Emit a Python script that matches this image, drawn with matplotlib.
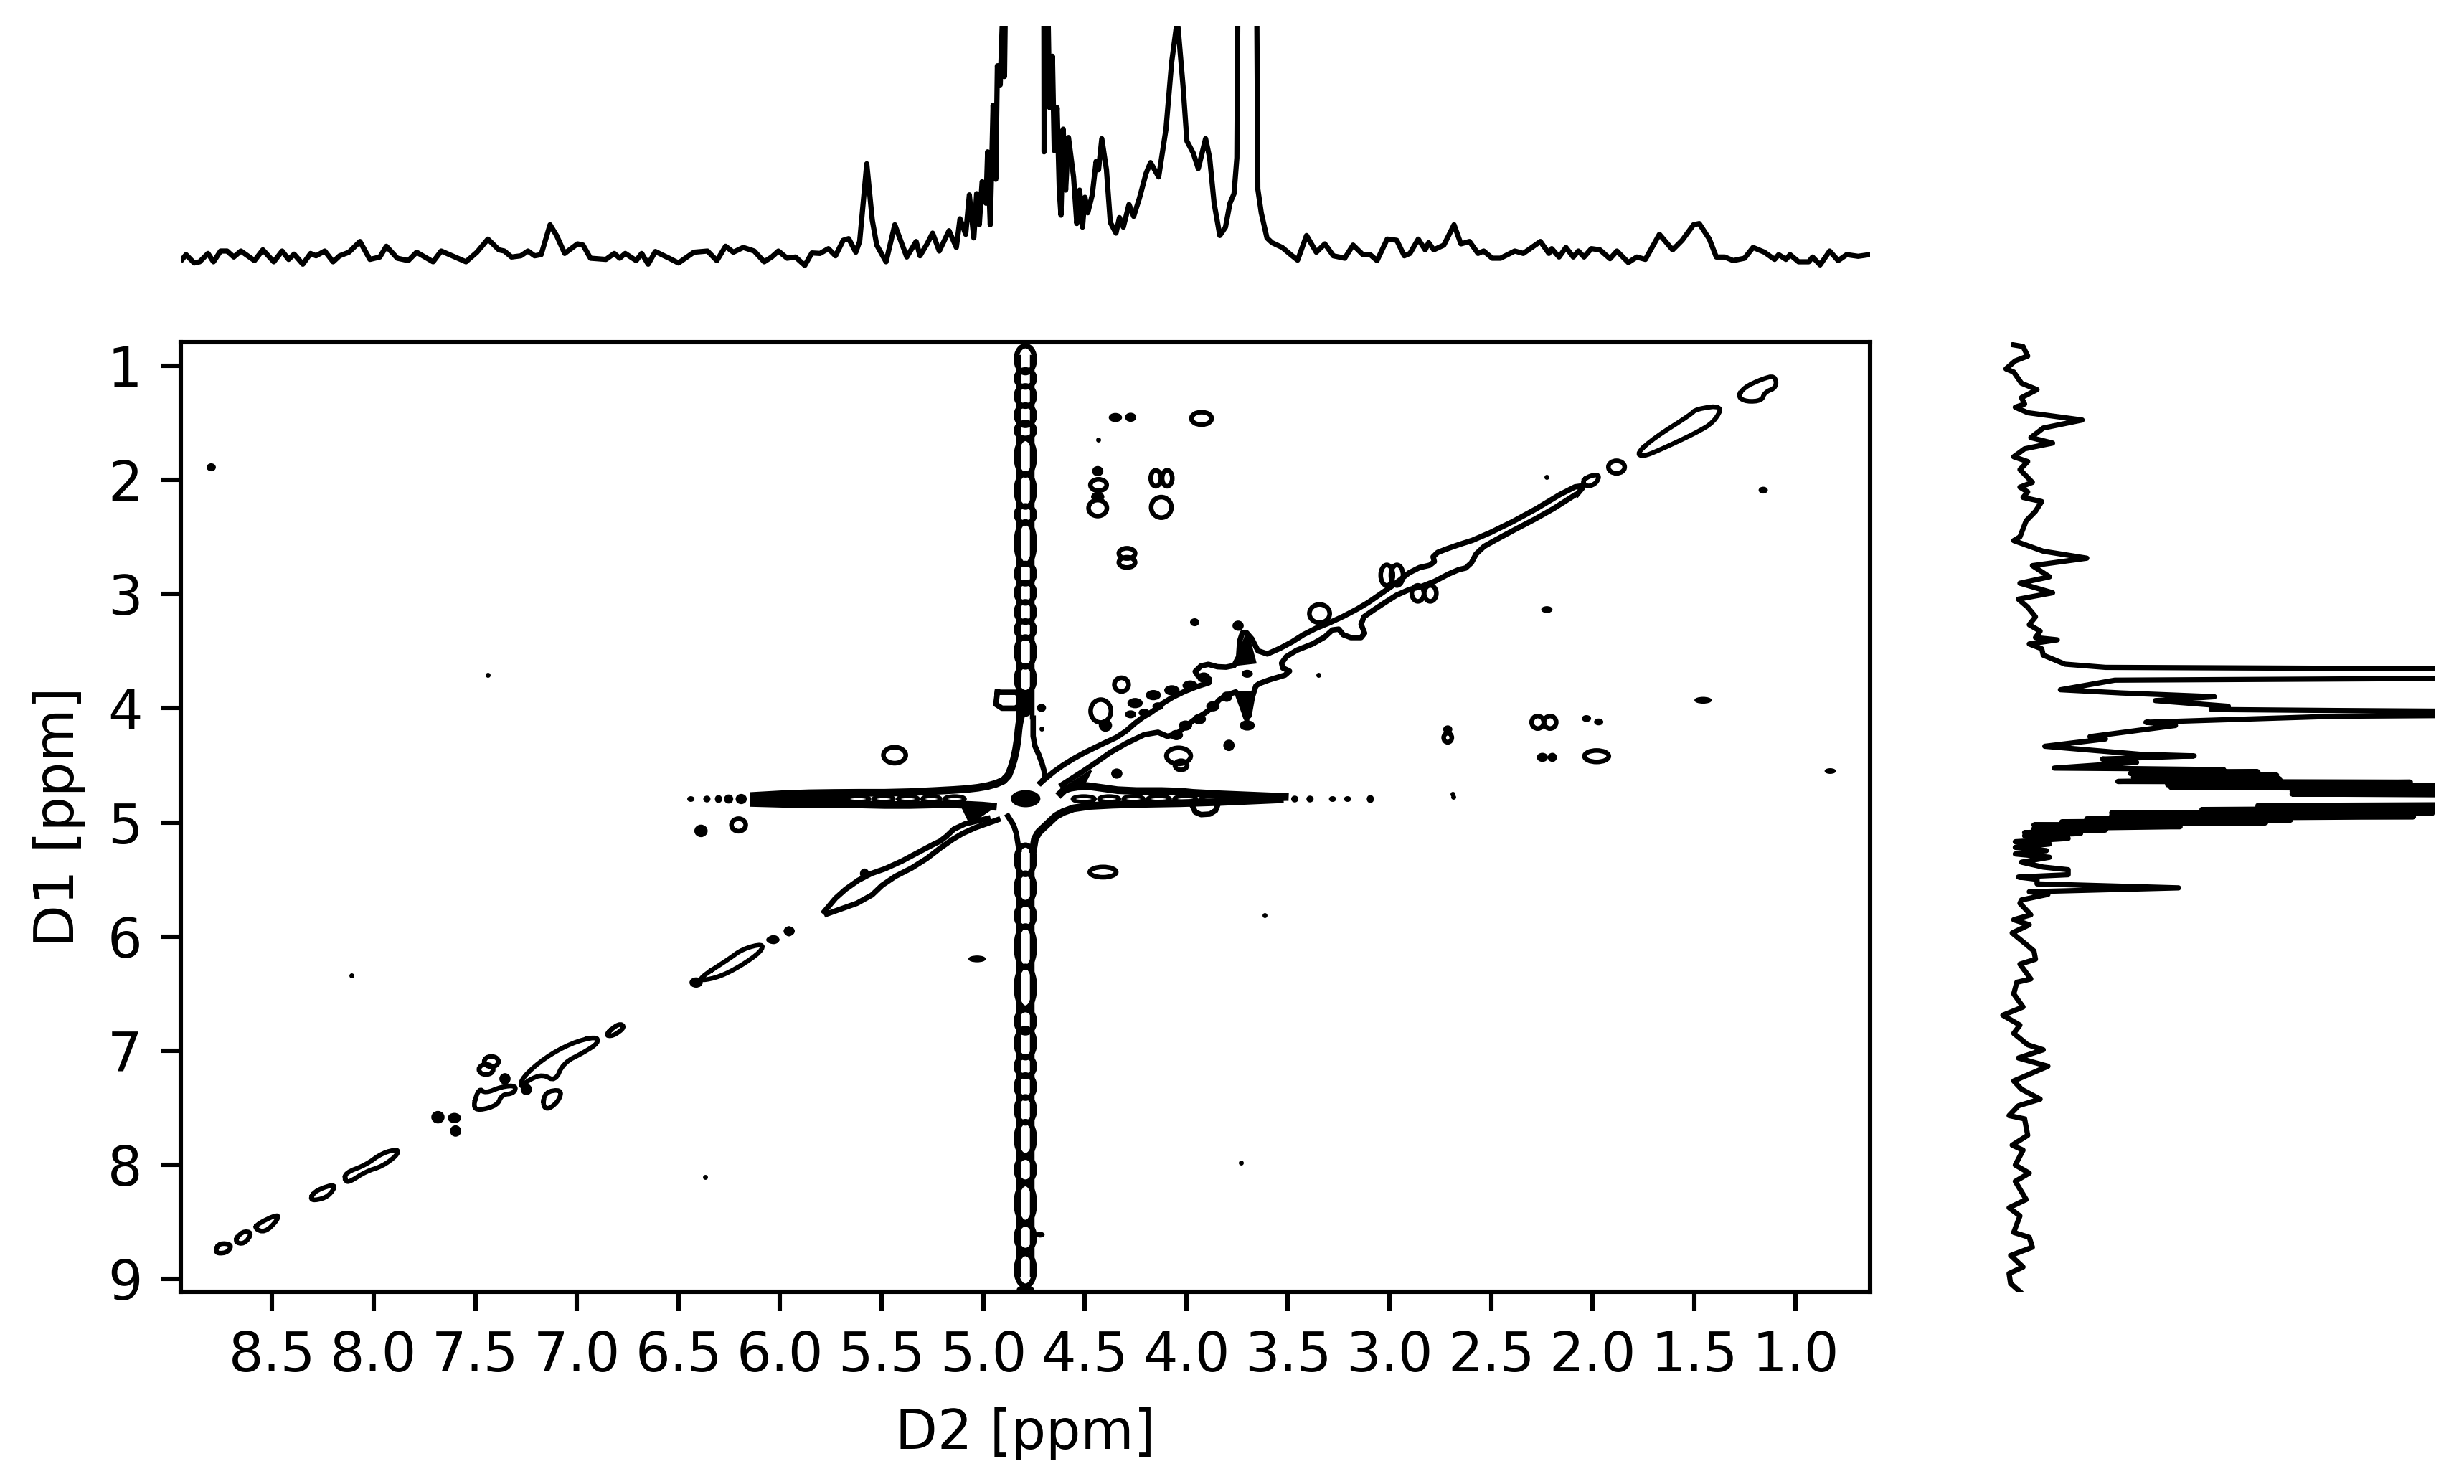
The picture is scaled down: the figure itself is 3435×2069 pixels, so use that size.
import numpy as np
import matplotlib
matplotlib.use('Agg')
import matplotlib.pyplot as plt
from matplotlib.patches import Ellipse

# ---------- 1D projection over D2 ----------
top_ppm_a = [8.943, 8.924, 8.884, 8.857, 8.816, 8.789, 8.754, 8.722, 8.689, 8.654,
             8.587, 8.546, 8.492, 8.451, 8.419, 8.392, 8.349, 8.311, 8.284, 8.241,
             8.200, 8.168, 8.122, 8.068, 8.019, 7.970, 7.938, 7.884, 7.830, 7.789,
             7.708, 7.668, 7.600, 7.546, 7.492, 7.438, 7.384, 7.357, 7.322, 7.276,
             7.241, 7.208, 7.176, 7.132, 7.100, 7.060, 6.997, 6.970, 6.933, 6.857,
             6.816, 6.789, 6.762, 6.708, 6.681, 6.649, 6.614, 6.546, 6.500, 6.424,
             6.357, 6.311, 6.268, 6.230, 6.181, 6.127, 6.078, 6.041, 6.008, 5.965,
             5.924, 5.878, 5.843, 5.803, 5.762, 5.727, 5.689, 5.662, 5.627, 5.608,
             5.573, 5.546, 5.524, 5.478, 5.435, 5.376, 5.330, 5.311, 5.276, 5.249,
             5.216, 5.168, 5.132, 5.114, 5.086, 5.068, 5.046, 5.032, 5.019, 5.005,
             4.986, 4.978, 4.965, 4.951, 4.938, 4.930, 4.916, 4.905, 4.895, 4.884]
top_int_a = [-14, 6, -29, -24, 11, -24, 21, 21, -4, 21,
             -19, 26, -24, 21, -14, 8, -34, 11, 1, 21,
             -24, 1, 16, 61, -14, -4, 41, -9, -19, 16,
             -24, 21, -4, -24, 16, 71, 26, 21, -4, 1,
             21, 1, 6, 131, 86, 11, 51, 46, -9, -14,
             11, -9, 11, -19, 11, -34, 19, -9, -29, 16,
             21, -19, 41, 16, 36, 21, -24, -4, 21, -9,
             -4, -39, 13, 11, 31, 1, 66, 73, 16, 61,
             386, 151, 46, -24, 131, -4, 61, 1, 51, 96,
             21, 106, 36, 156, 91, 256, 76, 261, 131, 311,
             221, 436, 131, 631, 321, 796, 716, 1000, 751, 1500]
top_ppm_b = [4.702, 4.700, 4.695, 4.684, 4.673, 4.659, 4.650, 4.636, 4.625, 4.617,
             4.606, 4.594, 4.580, 4.555, 4.539, 4.525, 4.511, 4.499, 4.485, 4.463,
             4.444, 4.432, 4.416, 4.393, 4.374, 4.346, 4.329, 4.310, 4.282, 4.259,
             4.231, 4.198, 4.176, 4.136, 4.100, 4.072, 4.044, 4.016, 3.997, 3.966,
             3.941, 3.905, 3.885, 3.863, 3.835, 3.807, 3.785, 3.765, 3.751, 3.743,
             3.656, 3.648, 3.631, 3.603, 3.578, 3.528, 3.486, 3.452, 3.408, 3.360,
             3.318, 3.276, 3.220, 3.179, 3.131, 3.095, 3.061, 3.011, 2.964, 2.927,
             2.899, 2.858, 2.824, 2.807, 2.782, 2.732, 2.682, 2.648, 2.606, 2.564,
             2.536, 2.494, 2.453, 2.383, 2.341, 2.257, 2.215, 2.201, 2.165, 2.131,
             2.095, 2.070, 2.042, 2.006, 1.964, 1.914, 1.880, 1.824, 1.782, 1.740,
             1.671, 1.606, 1.559, 1.503, 1.475, 1.425, 1.391, 1.349, 1.308, 1.252,
             1.210, 1.154, 1.104, 1.084, 1.048, 1.028, 0.986, 0.936, 0.917, 0.880,
             0.833, 0.791, 0.749, 0.693, 0.637]
top_int_b = [1500, 436, 1500, 1200, 621, 836, 441, 621, 271, 171,
             531, 276, 496, 331, 136, 276, 121, 246, 181, 256,
             396, 361, 491, 361, 141, 96, 161, 121, 216, 166,
             241, 346, 391, 331, 531, 811, 990, 711, 481, 431,
             366, 491, 411, 221, 86, 121, 221, 261, 411, 1500,
             1500, 281, 181, 76, 56, 36, 6, -17, 86, 16,
             51, 1, -9, 46, 6, 6, -19, 71, 66, 1,
             11, 71, 26, 56, 26, 46, 131, 51, 61, 11,
             21, -9, -9, 21, 11, 61, 11, 31, -4, 36,
             -4, 21, -4, 31, 26, -11, 21, -27, -4, -14,
             91, 26, 66, 131, 136, 71, -4, -4, -19, -9,
             36, 16, -14, 6, -14, 6, -24, -24, -4, -37,
             21, -19, 6, -1, 6]

# ---------- 1D projection along D1 ----------
side_ppm_a = [0.818, 0.832, 0.916, 0.958, 1.028, 1.056, 1.154, 1.210, 1.280, 1.336,
              1.364, 1.412, 1.476, 1.546, 1.630, 1.678, 1.728, 1.798, 1.840, 1.910,
              2.022, 2.064, 2.106, 2.154, 2.190, 2.275, 2.359, 2.499, 2.532, 2.625,
              2.686, 2.751, 2.849, 2.905, 2.989, 3.045, 3.115, 3.199, 3.269, 3.325,
              3.381, 3.401, 3.437, 3.479, 3.535, 3.614, 3.642, 3.656, 3.696, 3.737,
              3.754, 3.838, 3.866, 3.899, 3.933, 3.983, 4.011, 4.020, 4.045, 4.070,
              4.123, 4.151, 4.249, 4.269, 4.333, 4.403, 4.417, 4.445, 4.474, 4.524]
side_int_a = [-35, -5, 10, -30, -60, -35, -10, 40, -10, 0,
              -30, 10, 185, 60, 20, 90, 0, -35, 10, -15,
              25, -15, 10, -5, 55, 35, 5, -15, -35, 60,
              200, 25, 80, -15, 90, -20, 10, 35, 15, 50,
              35, 105, 15, 55, 60, 130, 260, 1500, 4000, 1500,
              290, 115, 310, 610, 420, 655, 600, 1000, 2500, 1000,
              390, 485, 210, 260, 65, 370, 545, 250, 360, 95]
side_ppm_b = [4.529, 4.538, 4.549, 4.557, 4.571, 4.586, 4.605, 4.619, 4.641, 4.647,
              4.670, 4.675, 4.692, 4.706, 4.726, 4.740, 4.751, 4.760, 4.800, 4.844,
              4.852, 4.873, 4.887, 4.901, 4.916, 4.921, 4.939, 4.950, 4.968, 4.979,
              4.994, 5.002, 5.022, 5.037, 5.054, 5.066, 5.089, 5.097, 5.117, 5.140,
              5.169, 5.189, 5.218, 5.247, 5.276, 5.305, 5.348, 5.391, 5.414, 5.458,
              5.478, 5.498, 5.538, 5.573, 5.607, 5.630, 5.679, 5.708, 5.809, 5.852,
              5.896, 5.968, 6.068, 6.126, 6.198, 6.241, 6.371, 6.400, 6.501, 6.616,
              6.688, 6.775, 6.847, 6.947, 6.991, 7.063, 7.135, 7.264, 7.336, 7.423,
              7.481, 7.567, 7.596, 7.740, 7.826, 7.870, 8.000, 8.071, 8.143, 8.302,
              8.374, 8.446, 8.590, 8.633, 8.720, 8.792, 8.893, 8.950, 9.037, 9.109]
side_int_b = [350, 640, 370, 750, 340, 810, 350, 820, 300, 1240,
              460, 1500, 470, 1500, 860, 1500, 860, 1500, 4000, 1500,
              750, 1500, 570, 1500, 280, 1310, 280, 1250, 200, 855,
              120, 775, 30, 500, 30, 260, 0, 180, 0, 140,
              -30, 80, -30, 70, -30, 80, -10, 60, 140, 140,
              -20, 40, 40, 495, 15, 75, -10, -15, 20, -35,
              15, -40, 5, 30, 35, -15, 20, -25, -35, -5,
              -70, -15, -35, 10, 60, -20, 75, -35, -10, 50,
              -20, -50, 0, 10, -40, -5, -30, 15, -30, 5,
              -50, -15, -35, 15, 25, -45, -5, -50, -45, -15]

# ---------- contour outlines, (D2, D1) in ppm ----------
diag_upper = [(4.717, 4.652), (4.635, 4.530), (4.533, 4.417), (4.421, 4.319), (4.319, 4.235),
              (4.229, 4.095), (4.162, 4.025), (4.094, 3.927), (3.981, 3.829), (3.858, 3.759),
              (3.970, 3.703), (3.914, 3.605), (3.824, 3.647), (3.745, 3.619), (3.734, 3.339),
              (3.693, 3.339), (3.632, 3.549), (3.508, 3.451), (3.396, 3.325), (3.261, 3.227),
              (3.126, 3.101), (3.035, 2.989), (2.979, 2.919), (2.878, 2.779), (2.776, 2.737),
              (2.788, 2.653), (2.686, 2.583), (2.562, 2.513), (2.337, 2.317), (2.101, 2.065),
              (2.040, 2.050), (2.075, 2.125)]
diag_lower = [(4.612, 4.670), (4.477, 4.516), (4.342, 4.347), (4.162, 4.193), (4.071, 4.263),
              (3.981, 4.123), (3.880, 4.011), (3.824, 3.899), (3.734, 3.843), (3.700, 4.151),
              (3.666, 3.815), (3.632, 3.773), (3.475, 3.689), (3.542, 3.633), (3.497, 3.521),
              (3.339, 3.409), (3.261, 3.283), (3.216, 3.381), (3.114, 3.381), (3.148, 3.227),
              (3.058, 3.115), (2.934, 2.975), (2.810, 2.919), (2.675, 2.793), (2.608, 2.765),
              (2.562, 2.611), (2.450, 2.499), (2.225, 2.289), (2.089, 2.135)]
arm_up_left = [(6.129, 4.767), (5.919, 4.746), (5.671, 4.740), (5.423, 4.740), (5.175, 4.719),
               (5.051, 4.704), (4.952, 4.673), (4.883, 4.620), (4.853, 4.484), (4.833, 4.317),
               (4.824, 4.150), (4.816, 4.087)]
arm_up_right = [(4.754, 4.087), (4.754, 4.296), (4.717, 4.442), (4.692, 4.599), (4.717, 4.652)]
arm_low_left = [(6.129, 4.830), (5.919, 4.840), (5.671, 4.840), (5.423, 4.850), (5.175, 4.840),
                (5.020, 4.850), (4.952, 4.861)]
arm_right_up = [(3.515, 4.777), (3.937, 4.746), (4.060, 4.725), (4.308, 4.725), (4.432, 4.694),
                (4.506, 4.677), (4.593, 4.704), (4.618, 4.746)]
arm_right_low = [(3.540, 4.798), (3.937, 4.829), (4.308, 4.840), (4.531, 4.861), (4.630, 4.924),
                 (4.680, 5.007), (4.742, 5.112), (4.754, 5.237)]
arm_down_left = [(4.878, 4.945), (4.841, 5.049), (4.824, 5.237)]
diag_left_a = [(4.977, 4.965), (5.126, 5.028), (5.200, 5.154), (5.250, 5.196), (5.448, 5.384),
               (5.584, 5.468), (5.708, 5.624), (5.782, 5.781)]
diag_left_b = [(4.928, 4.976), (5.076, 5.070), (5.175, 5.175), (5.312, 5.363), (5.473, 5.509),
               (5.572, 5.677), (5.770, 5.802)]
arm_bump = [(3.974, 4.840), (3.949, 4.934), (3.862, 4.924), (3.837, 4.809)]
block_near_ridge = [(4.930, 3.860), (4.810, 3.860), (4.810, 4.000), (4.940, 4.000), (4.930, 3.860)]

closed_shapes = [
    [(2.053, 2.017), (2.017, 1.965), (1.965, 1.954), (1.980, 2.028), (2.024, 2.063)],
    [(1.782, 1.766), (1.695, 1.630), (1.519, 1.431), (1.490, 1.379), (1.358, 1.348),
     (1.402, 1.494), (1.490, 1.588), (1.665, 1.735), (1.753, 1.798)],
    [(1.285, 1.275), (1.255, 1.191), (1.167, 1.118), (1.102, 1.086), (1.094, 1.191),
     (1.153, 1.233), (1.167, 1.306), (1.241, 1.316)],
    [(6.387, 6.351), (6.255, 6.200), (6.184, 6.108), (6.083, 6.061), (6.093, 6.131),
     (6.194, 6.258), (6.296, 6.351), (6.387, 6.386)],
    [(6.863, 6.862), (6.793, 6.757), (6.762, 6.792), (6.823, 6.873)],
    [(6.904, 6.873), (7.026, 6.931), (7.157, 7.059), (7.269, 7.233), (7.279, 7.326),
     (7.239, 7.256), (7.168, 7.205), (7.107, 7.268), (7.066, 7.105), (6.965, 7.013),
     (6.894, 6.931)],
    [(7.168, 7.488), (7.157, 7.361), (7.076, 7.338), (7.086, 7.430), (7.137, 7.512)],
    [(7.512, 7.488), (7.482, 7.326), (7.451, 7.372), (7.370, 7.314), (7.299, 7.303),
     (7.309, 7.372), (7.370, 7.384), (7.391, 7.477), (7.482, 7.523)],
    [(8.141, 8.138), (8.141, 8.069), (8.039, 7.999), (7.958, 7.894), (7.877, 7.860),
     (7.887, 7.918), (7.958, 8.011), (8.039, 8.057), (8.120, 8.150)],
    [(8.313, 8.289), (8.282, 8.219), (8.181, 8.161), (8.222, 8.277), (8.293, 8.312)],
    [(8.587, 8.556), (8.566, 8.509), (8.469, 8.428), (8.475, 8.486), (8.536, 8.591)],
    [(8.688, 8.672), (8.647, 8.579), (8.597, 8.591), (8.637, 8.695)],
    [(8.779, 8.742), (8.759, 8.684), (8.698, 8.695), (8.718, 8.765), (8.769, 8.776)],
]

filled_shapes = [
    [(5.101, 4.871), (4.952, 4.871), (5.064, 5.007)],
    [(4.618, 4.714), (4.469, 4.547), (4.506, 4.673), (4.358, 4.704)],
    [(3.760, 3.620), (3.700, 3.330), (3.660, 3.600)],
    [(3.760, 3.860), (3.700, 4.150), (3.670, 3.860)],
    # dark ends of the water line, left and right of the centre
    [(6.129, 4.750), (5.671, 4.745), (5.671, 4.840), (6.129, 4.835)],
    [(3.788, 4.750), (3.515, 4.775), (3.515, 4.800), (3.788, 4.835)],
]

# open ring peaks: centre and full widths in ppm
ring_d2 = [3.925, 4.432, 4.436, 4.150, 4.094, 4.123, 4.292, 4.292, 3.344, 4.319,
           4.421, 4.038, 5.436, 3.013, 2.963, 2.860, 2.799, 2.270, 2.209, 1.980,
           4.410, 6.204, 1.882, 7.447, 7.421, 2.713, 4.026]
ring_d1 = [1.462, 2.045, 2.247, 1.986, 1.986, 2.241, 2.644, 2.723, 3.171, 3.793,
           4.025, 4.417, 4.411, 2.835, 2.835, 2.994, 2.994, 4.123, 4.123, 4.420,
           5.435, 5.022, 1.888, 7.163, 7.094, 4.258, 4.500]
ring_w = [0.10, 0.08, 0.09, 0.05, 0.05, 0.10, 0.08, 0.08, 0.10, 0.07,
          0.10, 0.12, 0.11, 0.06, 0.06, 0.06, 0.06, 0.06, 0.06, 0.12,
          0.13, 0.07, 0.08, 0.07, 0.07, 0.04, 0.06]
ring_h = [0.11, 0.10, 0.14, 0.14, 0.14, 0.18, 0.09, 0.09, 0.16, 0.12,
          0.20, 0.14, 0.14, 0.18, 0.18, 0.14, 0.14, 0.11, 0.11, 0.10,
          0.09, 0.11, 0.11, 0.09, 0.09, 0.08, 0.08]

# closed-up peaks that print as solid dots
dot_d2 = [4.349, 4.274, 4.436, 4.436, 3.959, 3.745, 4.398, 4.713, 3.790, 4.342,
          2.713, 2.247, 2.198, 1.456, 0.830, 8.800, 5.030, 4.720, 6.389, 5.956,
          6.035, 4.791, 6.413, 6.032, 5.955, 7.249, 7.354, 7.684, 7.603, 7.597,
          3.700, 1.160, 2.225, 2.030, 1.970,
          6.439, 6.360, 6.303, 6.253, 6.191, 3.466, 3.391, 3.280, 3.206, 3.094,
          4.252, 4.162, 4.071, 3.981, 3.914, 4.274, 4.207, 4.139,
          4.049, 4.004, 3.936, 3.869, 3.801, 3.700, 5.584, 4.792, 4.792]
dot_d1 = [1.454, 1.452, 1.924, 2.149, 3.247, 3.277, 4.151, 3.997, 4.325, 4.572,
          4.185, 4.430, 4.430, 3.930, 4.550, 1.890, 6.195, 8.610, 5.074, 5.953,
          6.028, 4.792, 6.402, 6.026, 5.952, 7.338, 7.245, 7.581, 7.588, 7.702,
          3.698, 2.090, 3.136, 4.090, 4.120,
          4.795, 4.795, 4.795, 4.795, 4.795, 4.795, 4.795, 4.795, 4.795, 4.795,
          3.955, 3.885, 3.843, 3.801, 3.731, 4.053, 4.039, 3.983,
          4.235, 4.152, 4.095, 3.983, 3.899, 4.151, 5.448, 3.960, 9.090]
dot_w = [0.06, 0.05, 0.05, 0.06, 0.04, 0.05, 0.06, 0.04, 0.05, 0.05,
         0.04, 0.05, 0.04, 0.08, 0.05, 0.04, 0.08, 0.04, 0.06, 0.04,
         0.06, 0.14, 0.06, 0.05, 0.05, 0.05, 0.05, 0.06, 0.06, 0.05,
         0.05, 0.04, 0.05, 0.04, 0.04,
         0.03, 0.03, 0.03, 0.04, 0.05, 0.03, 0.03, 0.03, 0.03, 0.03,
         0.07, 0.07, 0.07, 0.07, 0.06, 0.05, 0.05, 0.05,
         0.06, 0.06, 0.06, 0.06, 0.05, 0.07, 0.04, 0.08, 0.08]
dot_h = [0.07, 0.07, 0.08, 0.08, 0.06, 0.08, 0.10, 0.06, 0.09, 0.08,
         0.06, 0.07, 0.07, 0.05, 0.04, 0.06, 0.05, 0.04, 0.10, 0.08,
         0.06, 0.14, 0.08, 0.07, 0.07, 0.09, 0.09, 0.10, 0.08, 0.09,
         0.06, 0.05, 0.05, 0.05, 0.05,
         0.04, 0.05, 0.06, 0.07, 0.08, 0.05, 0.05, 0.04, 0.04, 0.06,
         0.08, 0.08, 0.08, 0.08, 0.08, 0.06, 0.06, 0.06,
         0.08, 0.08, 0.08, 0.08, 0.08, 0.08, 0.08, 0.22, 0.06]

# very weak specks
speck_d2 = [4.432, 2.225, 3.351, 7.440, 2.690, 8.110, 3.614, 6.370, 3.730, 4.713, 2.686]
speck_d1 = [1.647, 1.975, 3.709, 3.710, 4.750, 6.340, 5.813, 8.103, 7.980, 4.179, 4.773]

# vertical t1 ridge at D2 = 4.79: the chain of cells, start and end in D1
ridge_d2 = 4.792
cell_start = [0.846, 1.056, 1.196, 1.364, 1.518, 1.658, 1.966, 2.247, 2.387, 2.751, 2.919,
              3.087, 3.255, 3.395, 3.647, 5.218, 5.463, 5.735, 5.926, 6.279, 6.660, 6.823,
              7.068, 7.231, 7.422, 7.639, 7.952, 8.184, 8.537, 8.796]
cell_end = [1.042, 1.168, 1.336, 1.504, 1.616, 1.938, 2.219, 2.359, 2.723, 2.891, 3.059,
            3.227, 3.367, 3.619, 3.843, 5.436, 5.681, 5.899, 6.252, 6.606, 6.823, 7.041,
            7.204, 7.395, 7.612, 7.898, 8.129, 8.483, 8.728, 9.040]

# same chain along the water line at D1 = 4.795, start and end in D2
hridge_d1 = 4.795
hcell_start = [5.671, 5.540, 5.420, 5.300, 5.190, 4.560, 4.430, 4.310, 4.190, 4.060, 3.930]
hcell_end = [5.560, 5.440, 5.320, 5.210, 5.090, 4.450, 4.330, 4.210, 4.080, 3.950, 3.790]

d2_ticks = [8.5, 8.0, 7.5, 7.0, 6.5, 6.0, 5.5, 5.0, 4.5, 4.0, 3.5, 3.0, 2.5, 2.0, 1.5, 1.0]
d1_ticks = [1, 2, 3, 4, 5, 6, 7, 8, 9]

W, H = 3435, 2069
DPI = 550


def px_axes(fig, left, top, right, bottom):
    return fig.add_axes([left / W, 1 - bottom / H, (right - left) / W, (bottom - top) / H])


# corner cutting, contour outlines in the original are rounded
def chaikin(path, closed=False, rounds=2):
    pts = np.array(path + path[:1] if closed else path, dtype=float)
    for _ in range(rounds):
        q = 0.75 * pts[:-1] + 0.25 * pts[1:]
        r = 0.25 * pts[:-1] + 0.75 * pts[1:]
        mid = np.empty((len(q) * 2, 2))
        mid[0::2] = q
        mid[1::2] = r
        if closed:
            pts = np.vstack([mid, mid[:1]])
        else:
            pts = np.vstack([pts[:1], mid, pts[-1:]])
    return pts[:, 0], pts[:, 1]


def main():
    fig = plt.figure(figsize=(W / DPI, H / DPI), dpi=DPI)
    ax = px_axes(fig, 252, 477, 2607, 1801)
    ax_top = px_axes(fig, 252, 36, 2607, 400)
    ax_side = px_axes(fig, 2760, 477, 3394, 1801)

    ############### 2D map #####################
    lw = 0.85
    for path in [diag_upper, diag_lower, arm_bump, block_near_ridge, diag_left_a, diag_left_b,
                 arm_down_left, arm_up_right]:
        d2, d1 = chaikin(path, rounds=1)
        ax.plot(d2, d1, color='k', lw=1.0, solid_joinstyle='round')
    for path in [arm_up_left, arm_low_left, arm_right_up, arm_right_low]:
        d2, d1 = chaikin(path, rounds=1)
        ax.plot(d2, d1, color='k', lw=1.4, solid_joinstyle='round')
    for path in closed_shapes:
        d2, d1 = chaikin(path, closed=True)
        ax.plot(d2, d1, color='k', lw=lw, solid_joinstyle='round')
    for path in filled_shapes:
        d2, d1 = zip(*path)
        ax.fill(d2, d1, color='k', lw=0.4)

    for x, y, w, h in zip(ring_d2, ring_d1, ring_w, ring_h):
        ax.add_patch(Ellipse((x, y), w, h, fill=False, ec='k', lw=lw))
    for x, y, w, h in zip(dot_d2, dot_d1, dot_w, dot_h):
        ax.add_patch(Ellipse((x, y), w, h, fc='k', ec='k', lw=0.2))
    ax.plot(speck_d2, speck_d1, ls='none', marker='o', ms=0.9, color='k', mew=0)

    # the t1 ridge, side walls and the cells between them
    for start, end in zip(cell_start, cell_end):
        ax.add_patch(Ellipse((ridge_d2, (start + end) / 2), 0.09, end - start + 0.04,
                             fill=False, ec='k', lw=0.95))
    for side in (-0.034, 0.034):
        ax.plot([ridge_d2 + side] * 2, [cell_start[0] + 0.08, 4.08], color='k', lw=0.85)
        ax.plot([ridge_d2 + side] * 2, [5.22, cell_end[-1] - 0.08], color='k', lw=0.85)
    for start, end in zip(hcell_start, hcell_end):
        ax.add_patch(Ellipse(((start + end) / 2, hridge_d1), start - end, 0.05,
                             fill=False, ec='k', lw=0.7))

    ax.set_xlim(8.95, 0.634)
    ax.set_ylim(9.11, 0.794)
    ax.set_xticks(d2_ticks)
    ax.set_xticklabels([f'{t:.1f}' for t in d2_ticks])
    ax.set_yticks(d1_ticks)
    ax.set_xlabel('D2 [ppm]', labelpad=4.4)
    ax.set_ylabel('D1 [ppm]')

    ############### 1D traces #####################
    ax_top.plot(top_ppm_a + top_ppm_b, top_int_a + top_int_b, color='k', lw=0.95,
                solid_joinstyle='round')
    ax_top.set_xlim(8.95, 0.634)
    ax_top.set_ylim(-129, 963)
    ax_top.axis('off')

    ax_side.plot(side_int_a + side_int_b, side_ppm_a + side_ppm_b, color='k', lw=0.95,
                 solid_joinstyle='round')
    ax_side.set_xlim(-144, 1318)
    ax_side.set_ylim(9.11, 0.794)
    ax_side.axis('off')

    fig.savefig('out.png', dpi=DPI)


if __name__ == '__main__':
    main()
